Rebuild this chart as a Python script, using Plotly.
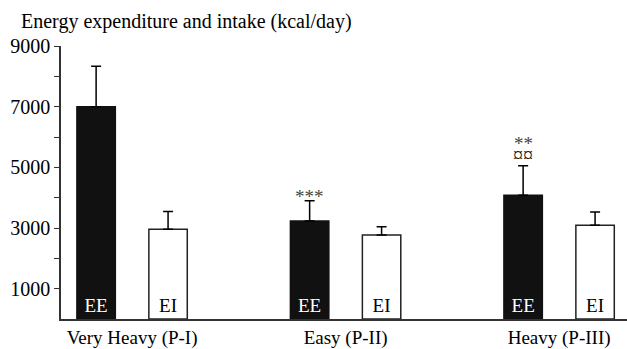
import plotly.graph_objects as go

# Energy expenditure (EE) and energy intake (EI) per training period, kcal/day
periods = ["Very Heavy (P-I)", "Easy (P-II)", "Heavy (P-III)"]
ee_mean = [7000, 3230, 4080]
ee_sd = [1330, 670, 975]
ei_mean = [2960, 2770, 3090]
ei_sd = [580, 270, 440]
# significance symbols above the EE error bars: (upper line, lower line)
ee_marks = [("", ""), ("***", ""), ("**", "¤¤")]

y_ticks = [1000, 2000, 3000, 4000, 5000, 6000, 7000, 8000, 9000]
y_tick_text = ["1000", "", "3000", "", "5000", "", "7000", "", "9000"]

FONT = "Liberation Serif, Times New Roman, serif"
xpos = list(range(len(periods)))
EE_OFFSET = -0.168

fig = go.Figure()
fig.add_trace(go.Bar(
    x=xpos, y=ee_mean, name="EE",
    marker=dict(color="#111111", line=dict(color="#111111", width=1.5)),
    error_y=dict(type="data", symmetric=False, array=ee_sd,
                 arrayminus=[0] * len(ee_sd), color="black", thickness=1.5, width=5),
    text=["EE"] * len(periods), textposition="inside", insidetextanchor="start",
    textfont=dict(family=FONT, size=19, color="white"), textangle=0,
))
fig.add_trace(go.Bar(
    x=xpos, y=ei_mean, name="EI",
    marker=dict(color="white", line=dict(color="#222222", width=1.5)),
    error_y=dict(type="data", symmetric=False, array=ei_sd,
                 arrayminus=[0] * len(ei_sd), color="black", thickness=1.5, width=5),
    text=["EI"] * len(periods), textposition="inside", insidetextanchor="start",
    textfont=dict(family=FONT, size=19, color="black"), textangle=0,
))

for i, (m, sd, (upper, lower)) in enumerate(zip(ee_mean, ee_sd, ee_marks)):
    top = m + sd
    if lower:
        fig.add_annotation(x=i + EE_OFFSET, y=top, text=lower, showarrow=False,
                           yanchor="middle", yshift=11,
                           font=dict(family=FONT, size=20, color="#111111"))
        fig.add_annotation(x=i + EE_OFFSET, y=top, text=upper, showarrow=False,
                           yanchor="middle", yshift=22,
                           font=dict(family=FONT, size=19, color="#444444"))
    elif upper:
        fig.add_annotation(x=i + EE_OFFSET, y=top, text=upper, showarrow=False,
                           yanchor="middle", yshift=4,
                           font=dict(family=FONT, size=19, color="#444444"))

fig.add_annotation(xref="paper", yref="paper", x=-0.074, y=1.09,
                   xanchor="left", yanchor="middle", showarrow=False,
                   text="Energy expenditure and intake (kcal/day)",
                   font=dict(family=FONT, size=20, color="black"))

fig.update_layout(
    width=627, height=349,
    margin=dict(l=61, r=0, t=46, b=26),
    plot_bgcolor="white", paper_bgcolor="white",
    barmode="group", bargap=0.326, bargroupgap=0.466,
    showlegend=False,
    font=dict(family=FONT, size=19, color="black"),
    uniformtext=dict(minsize=19, mode="show"),
)
fig.update_xaxes(
    range=[-0.333, 2.318], tickvals=xpos, ticktext=periods,
    showline=True, linecolor="#333333", linewidth=1.5, ticks="",
    showgrid=False, zeroline=False, tickfont=dict(family=FONT, size=19),
)
fig.update_yaxes(
    range=[0, 9000], tickvals=y_ticks, ticktext=y_tick_text,
    showline=True, linecolor="#333333", linewidth=1.5,
    ticks="outside", ticklen=5, tickcolor="#333333", tickwidth=1.2,
    showgrid=False, zeroline=False, tickfont=dict(family=FONT, size=20),
)

fig.write_html("out.html")
